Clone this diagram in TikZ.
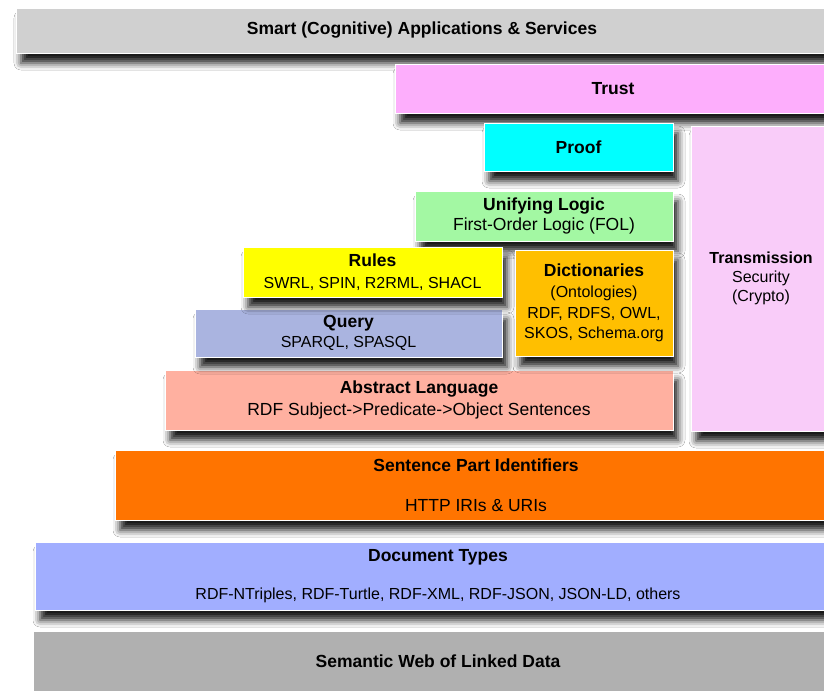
\documentclass[tikz,border=0pt]{standalone}
\usepackage{fontspec}
\setmainfont{Liberation Sans}
\usetikzlibrary{shadows.blur}
\definecolor{cTop}{HTML}{D0D0D0}
\definecolor{cTrust}{HTML}{FDAEFC}
\definecolor{cProof}{HTML}{00FFFF}
\definecolor{cTrans}{HTML}{F9CCF9}
\definecolor{cUnify}{HTML}{A3F8A3}
\definecolor{cRules}{HTML}{FFFF00}
\definecolor{cDict}{HTML}{FFBF00}
\definecolor{cQuery}{HTML}{AAB4E0}
\definecolor{cAbs}{HTML}{FFB0A0}
\definecolor{cSent}{HTML}{FF7400}
\definecolor{cDoc}{HTML}{A1AEFF}
\definecolor{cSem}{HTML}{B0B0B0}
\newcommand{\smallsz}{\fontsize{16}{19}\selectfont}
\tikzset{
  layer/.style={draw=white, line width=1pt, inner sep=0pt, align=center,
    font=\fontsize{17.5}{20.5}\selectfont, text=black,
    blur shadow={shadow xshift=5pt, shadow yshift=-10pt, shadow blur radius=7pt, shadow opacity=90}},
  flat/.style={draw=white, line width=1pt, inner sep=0pt, align=center,
    font=\fontsize{17.5}{20.5}\selectfont, text=black}
}
\begin{document}
\begin{tikzpicture}[x=1pt,y=-1pt]
\useasboundingbox[fill=white] (0,0) rectangle (824,691);
\node[layer, fill=cTop, minimum width=812pt, minimum height=45pt] (top) at (422,30.5) {\bfseries Smart (Cognitive) Applications \& Services};
\node[layer, fill=cTrust, minimum width=436pt, minimum height=49pt] (trust) at (613,88.5) {\bfseries Trust};
\node[layer, fill=cTrans, minimum width=140pt, minimum height=305pt, font=\smallsz] (trans) at (761,278.5) {\bfseries Transmission\\Security\\(Crypto)};
\node[layer, fill=cProof, minimum width=189pt, minimum height=48pt] (proof) at (578.5,147) {\bfseries Proof};
\node[layer, fill=cUnify, minimum width=258pt, minimum height=50pt] (unify) at (544,216) {\bfseries Unifying Logic\\First-Order Logic (FOL)};
\node[layer, fill=cAbs, minimum width=508pt, minimum height=60pt] (abs) at (419,400) {\bfseries Abstract Language\\[1pt]RDF Subject->Predicate->Object Sentences};
\node[layer, fill=cQuery, minimum width=307pt, minimum height=48pt] (query) at (348.5,333) {\bfseries Query\\{\smallsz SPARQL, SPASQL}};
\node[layer, fill=cRules, minimum width=259pt, minimum height=50pt] (rules) at (372.5,272) {\bfseries Rules\\[1pt]{\smallsz SWRL, SPIN, R2RML, SHACL}};
\node[layer, fill=cDict, minimum width=158pt, minimum height=106pt] (dict) at (594,303) {{\bfseries Dictionaries}\\[1pt]{\smallsz (Ontologies)}\\{\smallsz RDF, RDFS, OWL,}\\{\smallsz SKOS, Schema.org}};
\node[layer, fill=cSent, minimum width=722pt, minimum height=70pt] (sent) at (476,485) {\bfseries Sentence Part Identifiers\\[20pt]HTTP IRIs \& URIs};
\node[layer, fill=cDoc, minimum width=806pt, minimum height=68pt] (doc) at (438,576) {\bfseries Document Types\\[17pt]{\smallsz RDF-NTriples, RDF-Turtle, RDF-XML, RDF-JSON, JSON-LD, others}};
\node[flat, fill=cSem, minimum width=810pt, minimum height=60pt] (sem) at (438,661) {\bfseries Semantic Web of Linked Data};
\end{tikzpicture}
\end{document}
